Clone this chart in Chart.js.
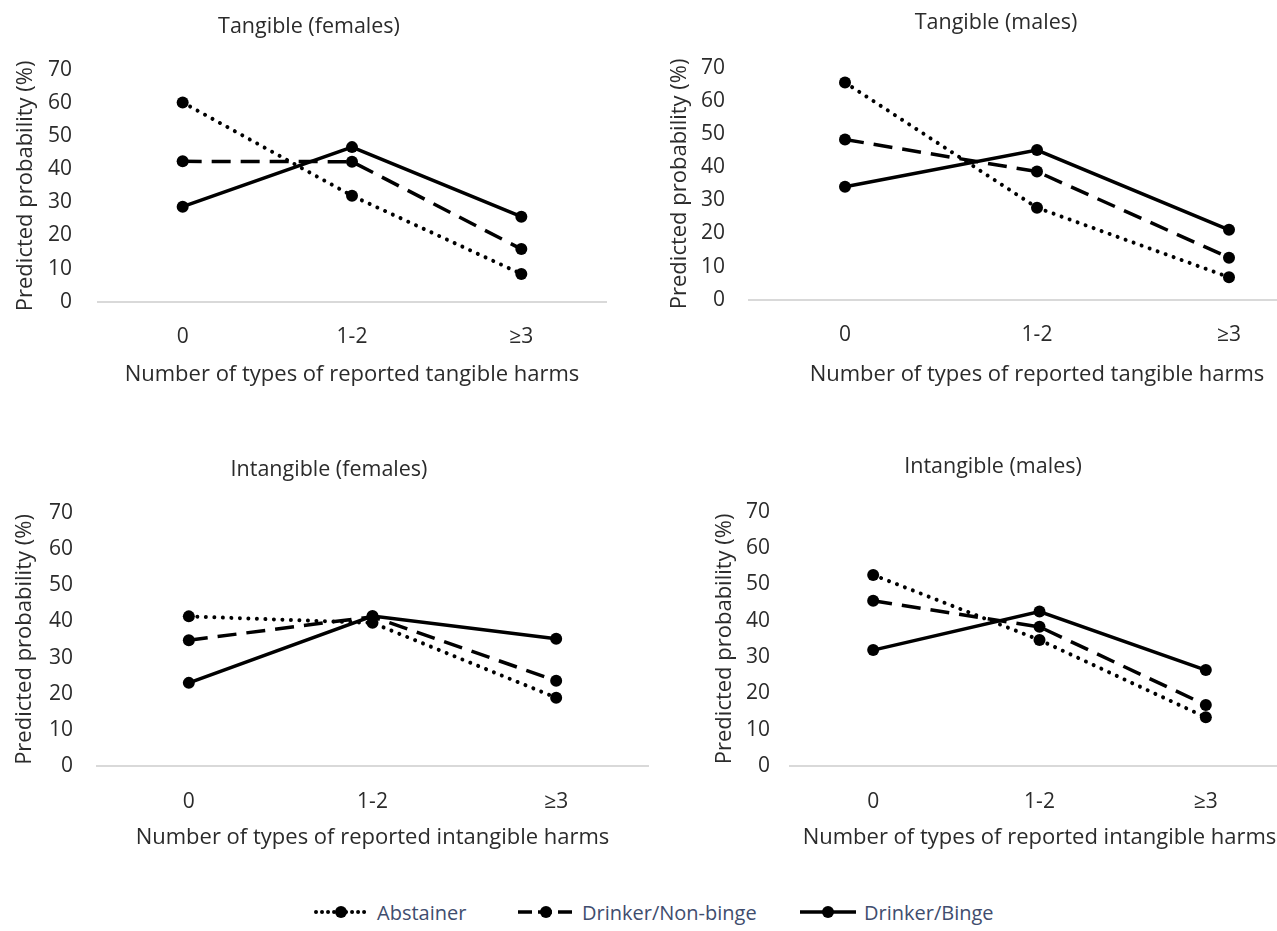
<!DOCTYPE html>
<html>
<head>
<meta charset="utf-8">
<script src="https://cdn.jsdelivr.net/npm/chart.js@4.4.1/dist/chart.umd.min.js"></script>
<style>
  html, body { margin: 0; padding: 0; background: #ffffff; }
  body { position: relative; width: 1277px; height: 931px; overflow: hidden; }
  .panel { position: absolute; }
  .panel canvas { display: block; }
  .legend-item { position: absolute; top: 898px; height: 28px; display: flex; align-items: center; }
  .legend-item canvas { display: block; margin-right: 8px; }
  .legend-item span { font-family: "Open Sans", sans-serif; font-size: 20px; color: #3f4d6e; white-space: nowrap; }
</style>
</head>
<body>
<div class="panel" id="panel1"><canvas id="chart1"></canvas></div>
<div class="panel" id="panel2"><canvas id="chart2"></canvas></div>
<div class="panel" id="panel3"><canvas id="chart3"></canvas></div>
<div class="panel" id="panel4"><canvas id="chart4"></canvas></div>
<div class="legend-item" id="legend0"><canvas width="56" height="20"></canvas><span></span></div>
<div class="legend-item" id="legend1"><canvas width="56" height="20"></canvas><span></span></div>
<div class="legend-item" id="legend2"><canvas width="56" height="20"></canvas><span></span></div>
<script>
// Categories and tick labels
const categories = ['0', '1-2', '\u22653'];
const yTickValues = [0, 10, 20, 30, 40, 50, 60, 70];
const seriesNames = ['Abstainer', 'Drinker/Non-binge', 'Drinker/Binge'];
const yAxisTitle = 'Predicted probability (%)';

// Tangible harms, females
const tangibleFemalesAbstainer = [60.2, 32.0, 8.4];
const tangibleFemalesNonBinge  = [42.4, 42.3, 15.9];
const tangibleFemalesBinge     = [28.7, 46.7, 25.7];

// Tangible harms, males
const tangibleMalesAbstainer = [65.6, 27.8, 6.8];
const tangibleMalesNonBinge  = [48.4, 38.7, 12.7];
const tangibleMalesBinge     = [34.1, 45.2, 21.1];

// Intangible harms, females
const intangibleFemalesAbstainer = [41.4, 39.6, 18.9];
const intangibleFemalesNonBinge  = [34.8, 41.3, 23.6];
const intangibleFemalesBinge     = [23.0, 41.5, 35.2];

// Intangible harms, males
const intangibleMalesAbstainer = [52.6, 34.7, 13.4];
const intangibleMalesNonBinge  = [45.5, 38.3, 16.8];
const intangibleMalesBinge     = [31.9, 42.5, 26.4];

const FONT = '"Open Sans", sans-serif';
const TEXT = '#2b2b2b';
const INK = '#000000';

// Line style per group: dotted, dashed, solid
const lineStyles = [
  { borderDash: [0.01, 8.5], borderWidth: 4, borderCapStyle: 'round' },
  { borderDash: [19, 10], borderWidth: 3.5, borderCapStyle: 'butt' },
  { borderDash: [], borderWidth: 3.5, borderCapStyle: 'butt' }
];

// Chart title drawn at a set point of each panel canvas
const panelTitlePlugin = {
  id: 'panelTitle',
  afterDraw(chart, args, opts) {
    const ctx = chart.ctx;
    ctx.save();
    ctx.font = opts.size + 'px ' + FONT;
    ctx.fillStyle = TEXT;
    ctx.textAlign = 'center';
    ctx.textBaseline = 'middle';
    ctx.fillText(opts.text, opts.x, opts.y);
    ctx.restore();
  }
};

// Placement of each panel on the page
const panels = [
  { id: 'chart1', wrap: 'panel1', title: 'Tangible (females)', xTitle: 'Number of types of reported tangible harms',
    series: [tangibleFemalesAbstainer, tangibleFemalesNonBinge, tangibleFemalesBinge],
    left: 0, top: 0, w: 612, h: 400, padTop: 70, yW: 98, xH: 98.3, titleX: 309, titleY: 27,
    xTickPad: 22.7, xTitleBottom: 11.8, yTickPad: 26, yTitlePad: 12.8 },
  { id: 'chart2', wrap: 'panel2', title: 'Tangible (males)', xTitle: 'Number of types of reported tangible harms',
    series: [tangibleMalesAbstainer, tangibleMalesNonBinge, tangibleMalesBinge],
    left: 660, top: 0, w: 671, h: 400, padTop: 68, yW: 89, xH: 100.3, titleX: 336, titleY: 23,
    xTickPad: 22.7, xTitleBottom: 11.8, yTickPad: 24, yTitlePad: 6.8 },
  { id: 'chart3', wrap: 'panel3', title: 'Intangible (females)', xTitle: 'Number of types of reported intangible harms',
    series: [intangibleFemalesAbstainer, intangibleFemalesNonBinge, intangibleFemalesBinge],
    left: 0, top: 440, w: 654, h: 420, padTop: 73, yW: 97, xH: 94, titleX: 329, titleY: 30,
    xTickPad: 23.4, xTitleBottom: 8.8, yTickPad: 24, yTitlePad: 11.8 },
  { id: 'chart4', wrap: 'panel4', title: 'Intangible (males)', xTitle: 'Number of types of reported intangible harms',
    series: [intangibleMalesAbstainer, intangibleMalesNonBinge, intangibleMalesBinge],
    left: 705, top: 440, w: 590, h: 420, padTop: 71.7, yW: 85, xH: 94, titleX: 288, titleY: 27,
    xTickPad: 23.4, xTitleBottom: 8.8, yTickPad: 20, yTitlePad: 6.8 }
];

function buildPanel(p) {
  const wrap = document.getElementById(p.wrap);
  wrap.style.left = p.left + 'px';
  wrap.style.top = p.top + 'px';
  const canvas = document.getElementById(p.id);
  canvas.width = p.w;
  canvas.height = p.h;
  canvas.style.width = p.w + 'px';
  canvas.style.height = p.h + 'px';

  const datasets = p.series.map((values, i) => Object.assign({
    label: seriesNames[i],
    data: values,
    borderColor: INK,
    backgroundColor: INK,
    pointRadius: 6,
    pointHoverRadius: 6,
    pointBackgroundColor: INK,
    pointBorderWidth: 0,
    tension: 0,
    fill: false,
    clip: false
  }, lineStyles[i]));

  return new Chart(canvas, {
    type: 'line',
    data: { labels: categories, datasets },
    plugins: [panelTitlePlugin],
    options: {
      responsive: false,
      animation: false,
      events: [],
      layout: { padding: { top: p.padTop, left: 0, right: 0, bottom: 0 } },
      plugins: {
        legend: { display: false },
        tooltip: { enabled: false },
        title: { display: false },
        panelTitle: { text: p.title, x: p.titleX, y: p.titleY, size: 21.5 }
      },
      scales: {
        x: {
          type: 'category',
          offset: true,
          grid: { display: false, drawTicks: false },
          border: { display: true, color: '#d9d9d9', width: 2 },
          ticks: { color: TEXT, font: { family: FONT, size: 21, lineHeight: 1.2 }, padding: p.xTickPad, maxRotation: 0 },
          title: {
            display: true, text: p.xTitle, color: TEXT,
            font: { family: FONT, size: 22, lineHeight: 1.2 },
            padding: { top: 0, bottom: p.xTitleBottom }
          },
          afterFit: (scale) => { scale.height = p.xH; }
        },
        y: {
          min: yTickValues[0],
          max: yTickValues[yTickValues.length - 1],
          afterBuildTicks: (scale) => { scale.ticks = yTickValues.map(v => ({ value: v })); },
          grid: { display: false, drawTicks: false },
          border: { display: false },
          ticks: { color: TEXT, font: { family: FONT, size: 21, lineHeight: 1.2 }, padding: p.yTickPad },
          title: {
            display: true, text: yAxisTitle, color: TEXT,
            font: { family: FONT, size: 22, lineHeight: 1.2 },
            padding: { top: p.yTitlePad, bottom: 0 }
          },
          afterFit: (scale) => { scale.width = p.yW; }
        }
      }
    }
  });
}

panels.forEach(buildPanel);

// Legend entries: line sample with a point marker, then the group name
const legendLeft = [313, 518, 800];
seriesNames.forEach((name, i) => {
  const item = document.getElementById('legend' + i);
  item.style.left = legendLeft[i] + 'px';
  item.querySelector('span').textContent = name;
  const c = item.querySelector('canvas');
  const g = c.getContext('2d');
  const st = lineStyles[i];
  g.strokeStyle = INK;
  g.lineWidth = st.borderWidth;
  g.lineCap = st.borderCapStyle;
  g.setLineDash(i === 0 ? [0.01, 6] : (i === 1 ? [14, 6] : []));
  g.beginPath();
  g.moveTo(i === 0 ? 3 : 0, 10);
  g.lineTo(i === 0 ? 53 : 56, 10);
  g.stroke();
  g.setLineDash([]);
  g.fillStyle = INK;
  g.beginPath();
  g.arc(28, 10, 6, 0, Math.PI * 2);
  g.fill();
});
</script>
</body>
</html>
